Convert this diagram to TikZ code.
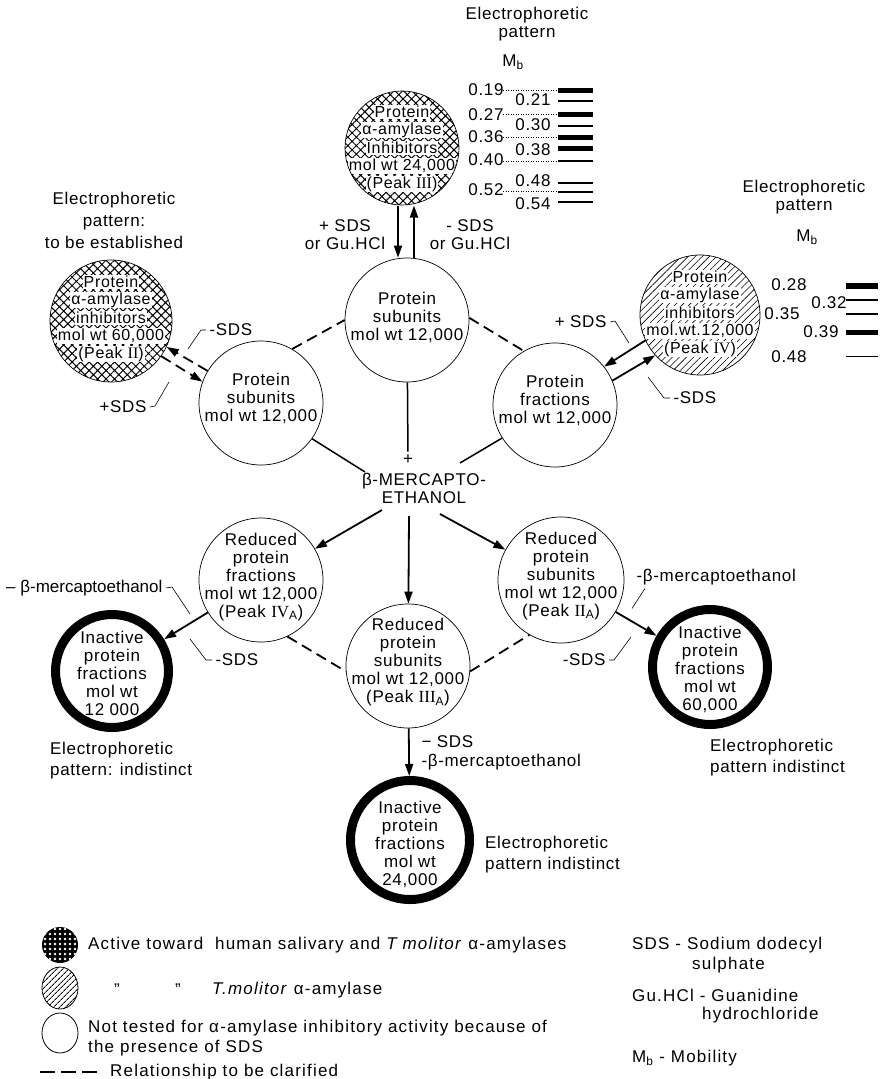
\documentclass[tikz,border=0pt]{standalone}
\usepackage{fontspec}
\setmainfont{Liberation Sans}[LetterSpace=4]
\newfontfamily\romfont{Liberation Serif}
\usetikzlibrary{arrows.meta,patterns.meta}

\begin{document}
\begin{tikzpicture}[x=1pt,y=-1pt,
    every node/.style={font=\fontsize{17}{18}\selectfont},
    blob/.style={circle,draw,line width=0.7pt,inner sep=0pt,minimum size=#1},
    dead/.style={circle,draw,line width=9pt,inner sep=0pt,minimum size=#1},
    xhatch/.style={blob=#1,pattern={Hatch[angle=45,distance=6pt,line width=1pt]}},
    shatch/.style={blob=#1,pattern={Lines[angle=45,distance=5pt,line width=0.6pt]}},
    txt/.style={align=center,inner sep=0pt},
    note/.style={align=left,inner sep=0pt,anchor=west,font=\fontsize{17}{21}\selectfont},
    key/.style={anchor=west,inner sep=0pt,font=\fontsize{17}{20}\selectfont\addfontfeature{LetterSpace=7}},
    wline/.style={fill=white,inner sep=1pt,font=\fontsize{16}{18}\selectfont},
    arr/.style={line width=1.8pt,-{Triangle[length=12pt,width=8pt]}},
    link/.style={line width=1.5pt},
    maybe/.style={line width=1.8pt,dash pattern=on 11pt off 6pt},
    hook/.style={line width=0.6pt}]
\useasboundingbox (0,0) rectangle (885,1079);

% inhibitors
\node[xhatch=114] (pk3) at (402,148) {};
\node[xhatch=122] (pk2) at (111,321) {};
\node[shatch=120] (pk4) at (700,315) {};
\begin{scope}
  \clip (pk3) circle (56);
  \foreach \l [count=\i] in {Protein,α-amylase,Inhibitors,{mol wt 24,000},{(Peak {\romfont III})}}
    \node[wline] (pk3-\i) at (402,{148+18*(\i-3)}) {\l};
\end{scope}
\begin{scope}
  \clip (pk2) circle (60);
  \foreach \l [count=\i] in {Protein,α-amylase,inhibitors,{mol wt 60,000},{(Peak {\romfont II})}}
    \node[wline] (pk2-\i) at (111,{318+18*(\i-3)}) {\l};
\end{scope}
\begin{scope}
  \clip (pk4) circle (59);
  \foreach \l [count=\i] in {Protein,α-amylase,inhibitors,{mol.wt.12,000},{(Peak {\romfont IV})}}
    \node[wline] (pk4-\i) at (700,{313+18*(\i-3)}) {\l};
\end{scope}

% subunits and fractions
\node[blob=124] (sub0) at (407,320) {};
\node[txt] (sub0t) at (407,317) {Protein\\subunits\\mol wt 12,000};
\node[blob=124] (subL) at (261,403) {};
\node[txt] (subLt) at (261,398) {Protein\\subunits\\mol wt 12,000};
\node[blob=124] (frR) at (555,405) {};
\node[txt] (frRt) at (555,400) {Protein\\fractions\\mol wt 12,000};

\node (pl) at (408,460) {+};
\node[txt] (merc) at (424,488) {β-MERCAPTO-\\ETHANOL};
\coordinate (mUL) at (365,472);
\coordinate (mUR) at (460,463);
\coordinate (mL) at (382,510);
\coordinate (mD) at (409,516);
\coordinate (mR) at (440,514);

% reduced
\node[blob=124] (redL) at (261,580) {};
\node[txt] (redLt) at (261,577) {Reduced\\protein\\fractions\\mol wt 12,000\\(Peak {\romfont IV}\textsubscript{A})};
\node[blob=124] (redC) at (408,666) {};
\node[txt] (redCt) at (408,662) {Reduced\\protein\\subunits\\mol wt 12,000\\(Peak {\romfont III}\textsubscript{A})};
\node[blob=126] (redR) at (561,580) {};
\node[txt] (redRt) at (561,576) {Reduced\\protein\\subunits\\mol wt 12,000\\(Peak {\romfont II}\textsubscript{A})};

% inactive
\node[dead=113] (inL) at (112,671) {};
\node[txt] (inLt) at (112,673) {Inactive\\protein\\fractions\\mol wt\\12 000};
\node[dead=115] (inR) at (710,667) {};
\node[txt] (inRt) at (710,669) {Inactive\\protein\\fractions\\mol wt\\60,000};
\node[dead=119] (inC) at (410,840) {};
\node[txt] (inCt) at (410,844) {Inactive\\protein\\fractions\\mol wt\\24,000};

% connectors
\draw[arr] (398,0 |- pk3.south) -- (398,0 |- sub0.north);
\draw[arr] (414,0 |- sub0.north) -- (414,0 |- pk3.south);
\draw[maybe,arr] (subL.149) -- (pk2.-25);
\draw[maybe,arr] (pk2.-35) -- (subL.160);
\draw[arr] (pk4.205) -- (frR.38);
\draw[arr] (frR.23) -- (pk4.222);
\draw[maybe] (subL.60) -- (sub0.180);
\draw[maybe] (sub0.2) -- (frR.120);
\draw[link] (sub0) -- (pl);
\draw[link] (subL.-35) -- (mUL);
\draw[link] (frR.-148) -- (mUR);
\draw[arr] (mL) -- (redL);
\draw[arr] (mD) -- (redC);
\draw[arr] (mR) -- (redR);
\draw[maybe] (redL.-65) -- (redC.185);
\draw[maybe] (redC.-5) -- (redR.-120);
\draw[arr] (redL) -- (inL);
\draw[arr] (redR) -- (inR);
\draw[arr] (redC) -- (inC);

% labels
\node[txt] (gu1) at (345,235) {+ SDS\\or Gu.HCl};
\node[txt] (gu2) at (470,235) {- SDS\\or Gu.HCl};
\node[anchor=west] (sdsA) at (206,330) {-SDS};
\draw[hook] (sdsA.west) -- ++(-5,0) -- ++(-13,19);
\node[anchor=east] (sdsB) at (150,407) {+SDS};
\draw[hook] (sdsB.east) -- ++(5,-1) -- ++(14,-24);
\node[anchor=east] (sdsC) at (610,322) {+ SDS};
\draw[hook] (sdsC.east) -- ++(5,-1) -- ++(14,22);
\node[anchor=west] (sdsD) at (670,398) {-SDS};
\draw[hook] (sdsD.west) -- ++(-6,0) -- ++(-16,-21);
\node[anchor=east,font=\fontsize{17}{18}\selectfont\addfontfeature{LetterSpace=0}] (bmL) at (166,588) {– β-mercaptoethanol};
\draw[hook] (bmL.east) -- ++(6,-1) -- ++(18,27);
\node[anchor=west] (sdsE) at (212,660) {-SDS};
\draw[hook] (sdsE.west) -- ++(-6,0) -- ++(-16,-21);
\node[anchor=west] (bmR) at (633,577) {-β-mercaptoethanol};
\draw[hook] ([xshift=12pt]bmR.south west) -- ++(-13,20);
\node[anchor=east] (sdsF) at (609,660) {-SDS};
\draw[hook] (sdsF.east) -- ++(5,0) -- ++(17,-23);
\node[anchor=west] (sdsG) at (418,742) {− SDS};
\node[anchor=west] (bmC) at (418,762) {-β-mercaptoethanol};

% electrophoretic patterns
\node[txt] (ep3) at (527,24) {Electrophoretic\\pattern};
\node (mb3) at (513,62) {M\textsubscript{b}};
\foreach \y in {90,114,137,161,191}
  \draw[dotted,line width=0.5pt] (503,\y) -- (557,\y);
\foreach \v/\x/\y [count=\k] in {0.19/486/90,0.27/486/115,0.36/486/137,0.40/486/160,0.52/486/190,
    0.21/533/100,0.30/533/125,0.38/533/150,0.48/533/181,0.54/533/204}
  \node[inner sep=1pt] (ma\k) at (\x,\y) {\v};
\foreach \y/\w in {90/5pt,101/1.5pt,114/5pt,126/1.5pt,137/5pt,148/5pt,161/1.5pt,183/1.2pt,192/1.2pt,202/2.5pt}
  \draw[line width=\w] (558,\y) -- (593,\y);

\node[txt] (ep4) at (804,197) {Electrophoretic\\pattern};
\node (mb4) at (807,237) {M\textsubscript{b}};
\foreach \v/\x/\y [count=\k] in {0.28/789/285,0.32/829/303,0.35/782/314,0.39/821/332,0.48/789/357}
  \node[inner sep=1pt] (mc\k) at (\x,\y) {\v};
\foreach \y/\w in {286/6pt,300/1.2pt,314/1.2pt,332/5pt,356/1pt}
  \draw[line width=\w] (846,\y) -- (878,\y);

\node[txt,font=\fontsize{17}{22}\selectfont] (ep2) at (114,220) {Electrophoretic\\pattern:\\to be established};
\node[note] (epL) at (50,761) {Electrophoretic\\pattern: indistinct};
\node[note] (epR) at (710,758) {Electrophoretic\\pattern indistinct};
\node[note] (epC) at (485,855) {Electrophoretic\\pattern indistinct};

% legend
\fill[black] (60,945) circle (18);
\fill[pattern={Dots[distance=5pt,radius=1.3pt]},pattern color=white] (60,945) circle (18);
\draw[line width=0.8pt,pattern={Lines[angle=45,distance=4pt,line width=1pt]}] (60,988) ellipse (18 and 21);
\draw[line width=0.8pt] (60,1033) ellipse (18 and 20);
\draw[line width=2pt,dash pattern=on 15pt off 6pt] (40,1072) -- (100,1072);
\node[key] (lg1) at (88,945) {Active toward\ \ human salivary and \textit{T molitor} α-amylases};
\node (lg2a) at (117,990) {”};
\node (lg2b) at (178,990) {”};
\node[key] (lg2) at (212,990) {\textit{T.molitor} α-amylase};
\node[key,align=left] (lg3) at (88,1038) {Not tested for α-amylase inhibitory activity because of\\the presence of SDS};
\node[key] (lg4) at (110,1072) {Relationship to be clarified};
\node[key] (ab1) at (632,945) {SDS - Sodium dodecyl};
\node[key] (ab1b) at (692,965) {sulphate};
\node[key] (ab2) at (632,995) {Gu.HCl - Guanidine};
\node[key] (ab2b) at (702,1015) {hydrochloride};
\node[key] (ab3) at (632,1058) {M\textsubscript{b} - Mobility};
\end{tikzpicture}
\end{document}
